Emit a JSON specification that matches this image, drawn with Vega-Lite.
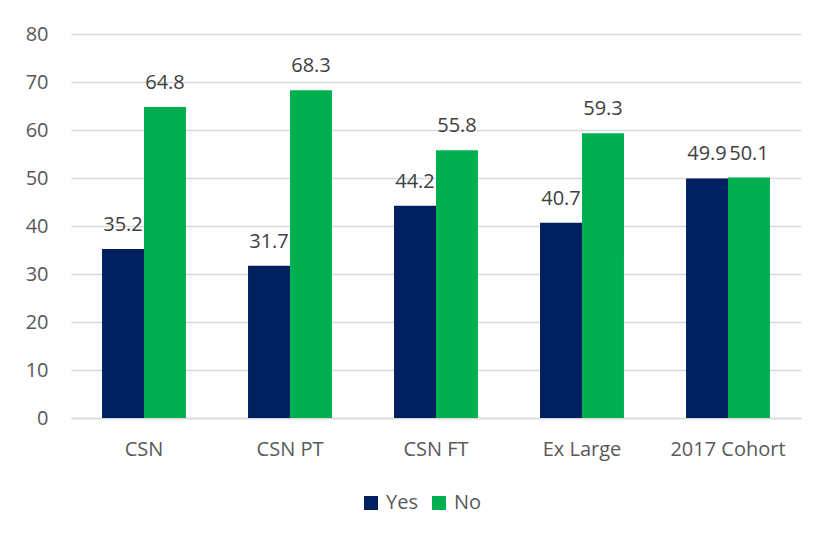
{
  "$schema": "https://vega.github.io/schema/vega-lite/v6.json",
  "autosize": {"type": "none"},
  "padding": {"left": 71, "top": 34, "right": 14, "bottom": 117},
  "width": 730,
  "height": 384,
  "background": "white",
  "config": {
    "view": {"stroke": null},
    "font": "Open Sans",
    "axis": {"labelFont": "Open Sans", "labelColor": "#595959", "labelFontSize": 20, "title": null}
  },
  "data": {
    "values": [
      {"category": "CSN", "series": "Yes", "value": 35.2},
      {"category": "CSN", "series": "No", "value": 64.8},
      {"category": "CSN PT", "series": "Yes", "value": 31.7},
      {"category": "CSN PT", "series": "No", "value": 68.3},
      {"category": "CSN FT", "series": "Yes", "value": 44.2},
      {"category": "CSN FT", "series": "No", "value": 55.8},
      {"category": "Ex Large", "series": "Yes", "value": 40.7},
      {"category": "Ex Large", "series": "No", "value": 59.3},
      {"category": "2017 Cohort", "series": "Yes", "value": 49.9},
      {"category": "2017 Cohort", "series": "No", "value": 50.1}
    ]
  },
  "encoding": {
    "x": {
      "field": "category", "type": "nominal",
      "sort": ["CSN", "CSN PT", "CSN FT", "Ex Large", "2017 Cohort"],
      "scale": {"paddingInner": 0.425, "paddingOuter": 0.2125},
      "axis": {"labelAngle": 0, "ticks": false, "domainColor": "#D9D9D9", "domainWidth": 1.5, "labelPadding": 21}
    },
    "xOffset": {"field": "series", "type": "nominal", "sort": ["Yes", "No"], "scale": {"paddingInner": 0, "paddingOuter": 0}},
    "y": {
      "field": "value", "type": "quantitative",
      "scale": {"domain": [0, 80]},
      "axis": {"values": [0, 10, 20, 30, 40, 50, 60, 70, 80], "domain": false, "ticks": false, "gridColor": "#D9D9D9", "gridWidth": 1.5, "labelPadding": 23}
    }
  },
  "layer": [
    {
      "mark": {"type": "bar"},
      "encoding": {
        "color": {
          "field": "series", "type": "nominal",
          "scale": {"domain": ["Yes", "No"], "range": ["#002060", "#00B050"]},
          "legend": {
            "title": null, "orient": "none", "direction": "horizontal",
            "legendX": 290, "legendY": 459,
            "symbolType": "square", "symbolSize": 196, "symbolStrokeWidth": 0,
            "labelFontSize": 20, "labelColor": "#595959", "labelFont": "Open Sans",
            "labelOffset": 5, "columnPadding": 11, "padding": 0
          }
        }
      }
    },
    {
      "mark": {"type": "text", "baseline": "alphabetic", "dy": -18, "fontSize": 20, "color": "#404040", "font": "Open Sans"},
      "encoding": {
        "text": {"field": "value", "type": "quantitative", "format": ".1f"}
      }
    }
  ]
}
